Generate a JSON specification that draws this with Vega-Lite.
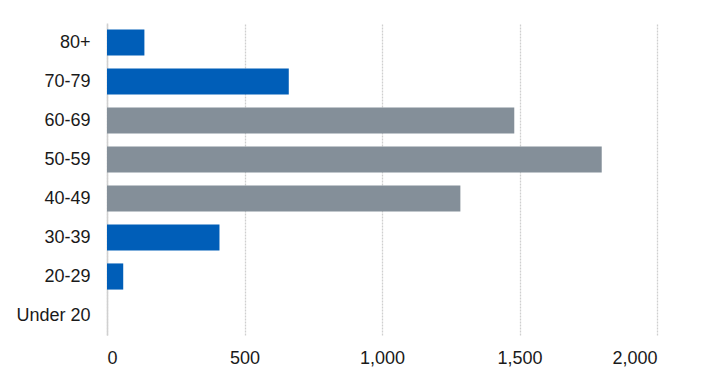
{
  "$schema": "https://vega.github.io/schema/vega-lite/v6.json",
  "autosize": {"type": "none"},
  "padding": {"left": 107, "top": 23, "right": 46, "bottom": 46},
  "width": 550,
  "height": 312,
  "background": "white",
  "config": {"view": {"stroke": null}, "font": "Liberation Sans"},
  "data": {"values": [
    {"age": "80+", "count": 136, "group": "highlight"},
    {"age": "70-79", "count": 661, "group": "highlight"},
    {"age": "60-69", "count": 1481, "group": "other"},
    {"age": "50-59", "count": 1799, "group": "other"},
    {"age": "40-49", "count": 1285, "group": "other"},
    {"age": "30-39", "count": 409, "group": "highlight"},
    {"age": "20-29", "count": 59, "group": "highlight"},
    {"age": "Under 20", "count": 0, "group": "highlight"}
  ]},
  "mark": {"type": "bar"},
  "encoding": {
    "y": {"field": "age", "type": "nominal", "sort": null,
      "scale": {"paddingInner": 0.33, "paddingOuter": 0.165},
      "axis": {"title": null, "ticks": false, "domain": true, "domainColor": "#D0D0D0", "domainWidth": 1.5,
        "labelFontSize": 18, "labelColor": "#1a1a1a", "labelPadding": 17, "grid": false}},
    "x": {"field": "count", "type": "quantitative",
      "scale": {"domain": [0, 2000], "nice": false},
      "axis": {"title": null, "values": [0, 500, 1000, 1500, 2000], "format": ",.0f", "ticks": false, "domain": false,
        "grid": true, "gridColor": "#CFCFCF", "gridWidth": 1.3, "gridDash": [2, 1],
        "labelFontSize": 18, "labelColor": "#1a1a1a", "labelPadding": 14}},
    "color": {"field": "group", "type": "nominal", "legend": null,
      "scale": {"domain": ["highlight", "other"], "range": ["#005EB8", "#848F99"]}}
  }
}
